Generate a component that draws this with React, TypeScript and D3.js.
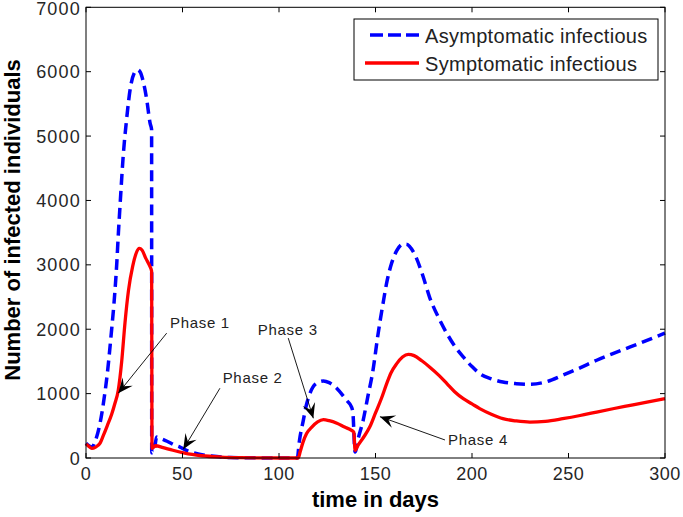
import React from "react";
import * as d3 from "d3";

// ---- data ----
const asymT = [0, 1.5, 3, 5, 7, 9.5, 11, 13.3, 14.5, 15.9, 16.8, 17.8, 19.3, 21, 23, 25, 26.6, 28, 30, 31.5, 33.2, 34,
  34.05, 35.5, 36.6, 38, 42, 46, 48.7, 52, 56, 60, 65, 70, 75, 85, 100, 109.5,
  110.5, 112.6, 114, 116, 119, 123, 126, 130, 135, 137.6, 138.3, 139.4,
  141, 143.6, 146, 148.7, 151.2, 153.9, 156, 158.3, 161, 164.4, 166, 170, 174, 178, 183, 187, 191, 195.5, 200, 204, 210, 216, 223, 230, 238, 247, 256, 264.6, 273, 282, 290, 300];
const asymV = [230, 190, 170, 280, 500, 950, 1300, 2000, 2400, 3000, 3500, 4000, 4700, 5250, 5750, 5980, 6030, 6000, 5800, 5560, 5200, 5100,
  80, 150, 325, 310, 260, 200, 170, 120, 80, 50, 30, 15, 8, 3, 0, 0,
  250, 585, 800, 1000, 1150, 1196, 1170, 1080, 896, 790, 700, 92,
  300, 585, 950, 1362, 1900, 2400, 2750, 3020, 3220, 3322, 3320, 3180, 2880, 2500, 2160, 1933, 1740, 1570, 1420, 1311, 1230, 1180, 1155, 1145, 1180, 1285, 1400, 1518, 1620, 1725, 1820, 1940];

const symT = [0, 1.5, 3, 5, 7.3, 9, 11, 13.3, 15, 16.7, 18.5, 20.2, 22, 24.2, 26, 27.6, 29, 31, 33.2, 34,
  34.2, 36, 40, 45, 50, 55, 60, 70, 80, 90, 100, 110,
  111, 112.5, 114.3, 117, 120, 123, 126, 130, 134, 137.6, 138.8, 139.4,
  141, 144, 147, 150, 153, 155.8, 158, 161, 164, 167, 170, 174, 178, 183, 187, 191, 195.5, 200, 204, 210, 216, 223, 230, 238, 247, 256, 264.6, 273, 282, 290, 300];
const symV = [220, 180, 150, 170, 230, 350, 500, 680, 850, 1050, 1500, 2100, 2600, 2980, 3180, 3255, 3230, 3100, 2970, 2900,
  150, 190, 160, 120, 85, 55, 35, 15, 6, 2, 0, 0,
  100, 250, 380, 480, 560, 595, 580, 540, 480, 430, 400, 120,
  200, 330, 480, 700, 920, 1155, 1320, 1466, 1570, 1611, 1590, 1510, 1414, 1280, 1155, 1030, 922, 840, 767, 680, 611, 575, 558, 570, 611, 660, 714, 765, 818, 865, 922];

const xTicks = [0, 50, 100, 150, 200, 250, 300];
const yTicks = [0, 1000, 2000, 3000, 4000, 5000, 6000, 7000];

const seriesNames = ["Asymptomatic infectious", "Symptomatic infectious"];

const phaseLabels = ["Phase 1", "Phase 2", "Phase 3", "Phase 4"];
const phaseTextT = [43.5, 70.8, 89, 187.6];
const phaseTextV = [2101, 1244, 2000, 280];
const arrowFromT = [41.8, 69.4, 104.8, 186];
const arrowFromV = [1939, 1084, 1862, 280];
const arrowToT = [16.7, 50.4, 117.8, 152.3];
const arrowToV = [1006, 135, 617, 642];

// ---- layout ----
const W = 683, H = 517;
const L = 86, R = 665, T = 7.3, B = 458;

export default function App() {
  const x = d3.scaleLinear().domain([0, 300]).range([L, R]);
  const y = d3.scaleLinear().domain([0, 7000]).range([B, T]);

  const line = d3.line<[number, number]>()
    .x(d => x(d[0]))
    .y(d => y(d[1]))
    .curve(d3.curveMonotoneX);

  const asym = asymT.map((t, i) => [t, asymV[i]] as [number, number]);
  const sym = symT.map((t, i) => [t, symV[i]] as [number, number]);

  const tickLen = 5;
  const font = "'Liberation Sans', Arial, sans-serif";

  const arrowHead = (x1: number, y1: number, x2: number, y2: number) => {
    const ang = Math.atan2(y2 - y1, x2 - x1) * 180 / Math.PI;
    const hl = 15, hw = 6.5;
    return (
      <path
        d={`M0,0 L${-hl},${-hw} L${-hl * 0.6},0 L${-hl},${hw} Z`}
        transform={`translate(${x2},${y2}) rotate(${ang})`}
        fill="#000"
      />
    );
  };

  return (
    <svg width={W} height={H} style={{ position: "absolute", left: 0, top: 0, display: "block", background: "#fff" }}>
      <rect x={0} y={0} width={W} height={H} fill="#fff" />
      {/* series */}
      <path d={line(asym) || ""} fill="none" stroke="#0000ff" strokeWidth={3.5} strokeDasharray="11,6" strokeLinejoin="round" />
      <path d={line(sym) || ""} fill="none" stroke="#ff0000" strokeWidth={3.3} strokeLinejoin="round" />

      {/* axes box */}
      <rect x={L} y={T} width={R - L} height={B - T} fill="none" stroke="#000" strokeWidth={1} />
      {xTicks.map(t => (
        <g key={"xt" + t}>
          <line x1={x(t)} x2={x(t)} y1={B} y2={B - tickLen} stroke="#000" />
          <line x1={x(t)} x2={x(t)} y1={T} y2={T + tickLen} stroke="#000" />
          <text x={x(t)} y={480} textAnchor="middle" fontFamily={font} fontSize={18} letterSpacing={0.5} fill="#262626">{t}</text>
        </g>
      ))}
      {yTicks.map(v => (
        <g key={"yt" + v}>
          <line x1={L} x2={L + tickLen} y1={y(v)} y2={y(v)} stroke="#000" />
          <line x1={R} x2={R - tickLen} y1={y(v)} y2={y(v)} stroke="#000" />
          <text x={81} y={Math.max(y(v) + 6.5, 15)} textAnchor="end" fontFamily={font} fontSize={18} letterSpacing={1.2} fill="#262626">{v}</text>
        </g>
      ))}

      {/* axis labels */}
      <text x={(L + R) / 2} y={507} textAnchor="middle" fontFamily={font} fontSize={22} fontWeight="bold" fill="#000">time in days</text>
      <text transform={`translate(20,${220}) rotate(-90)`} textAnchor="middle" fontFamily={font} fontSize={22} fontWeight="bold" fill="#000">Number of infected individuals</text>

      {/* annotations */}
      {phaseLabels.map((lab, i) => {
        const x1 = x(arrowFromT[i]), y1 = y(arrowFromV[i]);
        const x2 = x(arrowToT[i]), y2 = y(arrowToV[i]);
        return (
          <g key={lab}>
            <line x1={x1} y1={y1} x2={x2} y2={y2} stroke="#000" strokeWidth={0.9} />
            {arrowHead(x1, y1, x2, y2)}
            <text x={x(phaseTextT[i])} y={y(phaseTextV[i]) + 5.5} fontFamily={font} fontSize={15} letterSpacing={0.7} fill="#222">{lab}</text>
          </g>
        );
      })}

      {/* legend */}
      <rect x={354} y={19} width={304} height={61} fill="#fff" stroke="#000" strokeWidth={1} />
      <line x1={370} x2={419} y1={35} y2={35} stroke="#0000ff" strokeWidth={3.5} strokeDasharray="13,5" />
      <line x1={365} x2={419} y1={63} y2={63} stroke="#ff0000" strokeWidth={3.3} />
      <text x={425} y={42.5} fontFamily={font} fontSize={20} letterSpacing={0.3} fill="#222">{seriesNames[0]}</text>
      <text x={425} y={70.5} fontFamily={font} fontSize={20} letterSpacing={0.3} fill="#222">{seriesNames[1]}</text>
    </svg>
  );
}
